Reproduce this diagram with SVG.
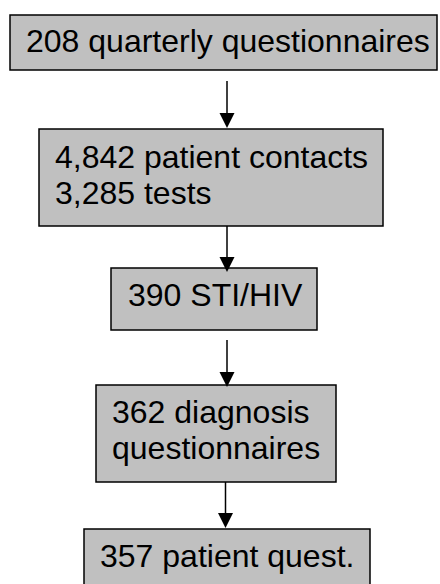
<svg xmlns="http://www.w3.org/2000/svg" width="440" height="584" viewBox="0 0 440 584">
<style>
.box{fill:#c0c0c0;stroke:#000;stroke-width:1.5}
.t{font-family:"Liberation Sans",Arial,sans-serif;font-size:32px;fill:#000}
.c{stroke:#000;stroke-width:1.5;fill:none}
.h{fill:#000}
</style>
<rect width="440" height="584" fill="#fff"/>
<g id="n1"><rect class="box" x="10" y="15" width="427" height="55"/><text class="t" x="26" y="52">208 quarterly questionnaires</text></g>
<g id="n2"><rect class="box" x="39" y="129" width="344" height="97"/><text class="t" x="55" y="168">4,842 patient contacts</text><text class="t" x="55" y="204">3,285 tests</text></g>
<g id="n3"><rect class="box" x="111" y="268" width="206" height="62"/><text class="t" x="128" y="306">390 STI/HIV</text></g>
<g id="n4"><rect class="box" x="96" y="385" width="240" height="97"/><text class="t" x="112" y="423">362 diagnosis</text><text class="t" x="112" y="459">questionnaires</text></g>
<g id="n5"><rect class="box" x="84" y="529" width="286" height="70"/><text class="t" x="100" y="567">357 patient quest.</text></g>
<g id="connectors">
<line class="c" x1="227" y1="81" x2="227" y2="114"/><polygon class="h" points="219.5,113 234.5,113 227,128"/>
<line class="c" x1="227" y1="226" x2="227" y2="258"/><polygon class="h" points="219.5,257 234.5,257 227,272"/>
<line class="c" x1="227" y1="340" x2="227" y2="373"/><polygon class="h" points="219.5,372 234.5,372 227,387"/>
<line class="c" x1="225.5" y1="482" x2="225.5" y2="514"/><polygon class="h" points="218,513 233,513 225.5,528"/>
</g>
</svg>
